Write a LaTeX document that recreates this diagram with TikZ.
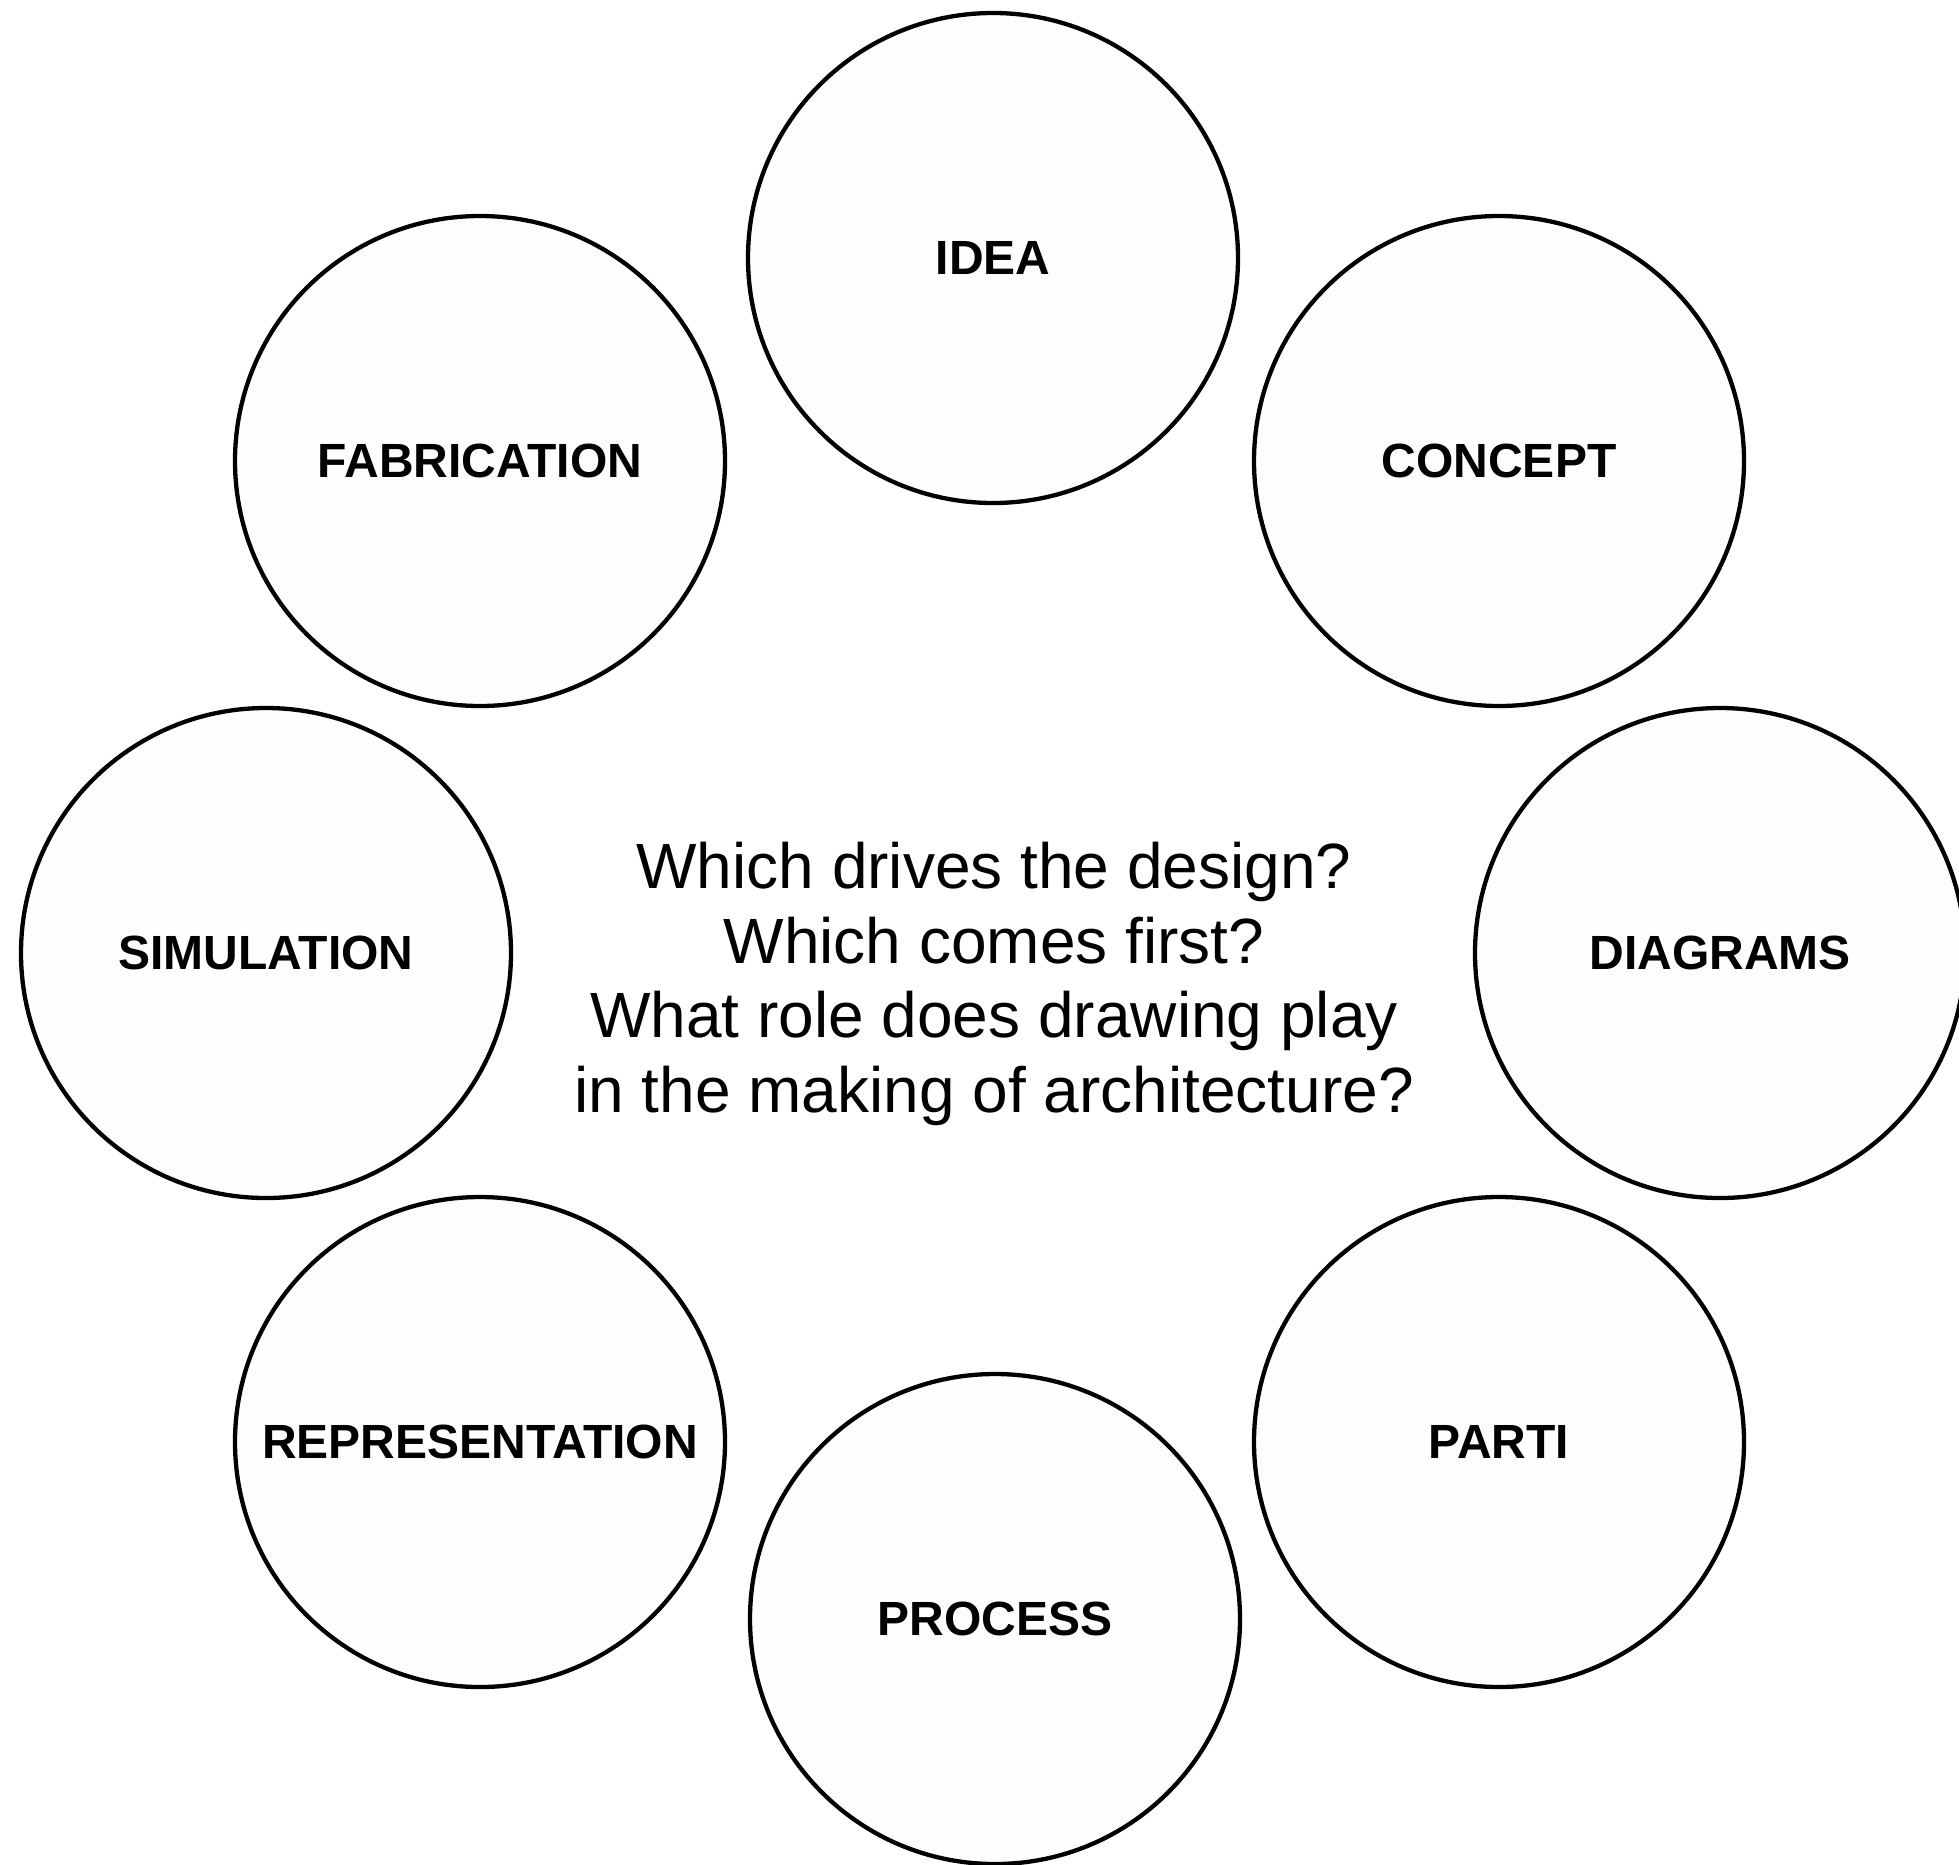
\documentclass[tikz,border=0pt]{standalone}
\usepackage{fontspec}
\setmainfont{Liberation Sans}
\definecolor{bubblefill}{RGB}{252,255,252}
\begin{document}
\begin{tikzpicture}[x=1pt,y=-1pt,
  bubble/.style={circle, draw=black, line width=4.3pt, fill=bubblefill,
    minimum size=490pt, inner sep=0pt,
    font=\fontsize{48}{56}\selectfont\bfseries},
  question/.style={anchor=base, inner sep=0pt,
    font=\fontsize{64}{75}\selectfont}]
\useasboundingbox (0,0) rectangle (1959,1864);
\clip (0,0) rectangle (1959,1864);
\fill[white] (0,0) rectangle (1959,1864);

\node[bubble] (idea)    at (993,258)   {IDEA};
\node[bubble] (concept) at (1499,461)  {CONCEPT};
\node[bubble] (diag)    at (1720,953)  {DIAGRAMS};
\node[bubble] (parti)   at (1499,1442) {PARTI};
\node[bubble] (proc)    at (995,1619)  {PROCESS};
\node[bubble] (repr)    at (480,1442)  {REPRESENTATION};
\node[bubble] (sim)     at (266,953)   {SIMULATION};
\node[bubble] (fab)     at (480,461)   {FABRICATION};

\node[question] (q1) at (994,888)  {Which drives the design?};
\node[question] (q2) at (994,963)  {Which comes first?};
\node[question] (q3) at (994,1037) {What role does drawing play};
\node[question] (q4) at (994,1112) {in the making of architecture?};
\end{tikzpicture}
\end{document}
